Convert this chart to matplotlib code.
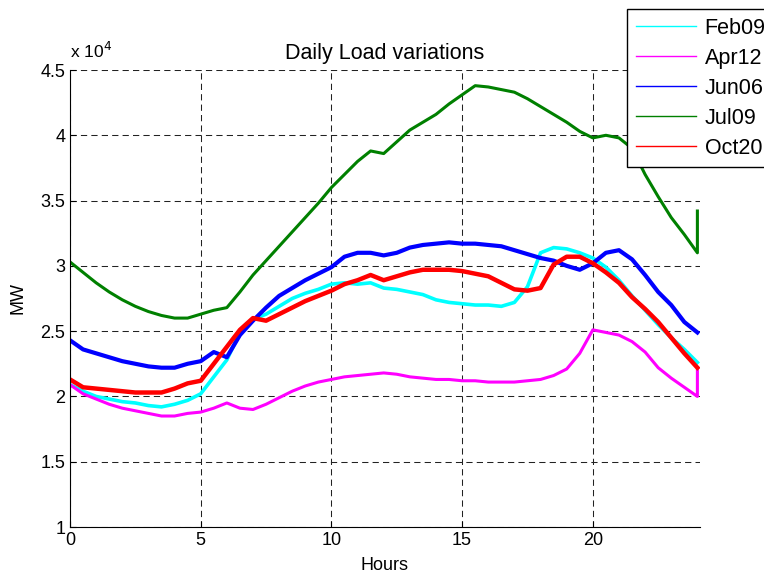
import numpy as np
import matplotlib
matplotlib.use("Agg")
import matplotlib.pyplot as plt

plt.rcParams['font.family'] = ['Liberation Sans', 'DejaVu Sans']

# half-hour samples, last entry repeated at 24 h for the end jump
hours = list(np.arange(0, 24.01, 0.5)) + [24.0]

# loads in units of 1e4 MW
feb09 = [2.09, 2.04, 2.00, 1.98, 1.96, 1.95, 1.93, 1.92, 1.94, 1.97,
         2.02, 2.15, 2.28, 2.49, 2.59, 2.63, 2.69, 2.75, 2.79, 2.82,
         2.86, 2.87, 2.86, 2.87, 2.83, 2.82, 2.80, 2.78, 2.74, 2.72,
         2.71, 2.70, 2.70, 2.69, 2.72, 2.84, 3.10, 3.14, 3.13, 3.10,
         3.06, 2.99, 2.89, 2.77, 2.66, 2.55, 2.45, 2.36, 2.26, 2.26]
apr12 = [2.09, 2.02, 1.98, 1.94, 1.91, 1.89, 1.87, 1.85, 1.85, 1.87,
         1.88, 1.91, 1.95, 1.91, 1.90, 1.94, 1.99, 2.04, 2.08, 2.11,
         2.13, 2.15, 2.16, 2.17, 2.18, 2.17, 2.15, 2.14, 2.13, 2.13,
         2.12, 2.12, 2.11, 2.11, 2.11, 2.12, 2.13, 2.16, 2.21, 2.33,
         2.51, 2.49, 2.47, 2.42, 2.34, 2.22, 2.14, 2.07, 2.00, 2.20]
jun06 = [2.43, 2.36, 2.33, 2.30, 2.27, 2.25, 2.23, 2.22, 2.22, 2.25,
         2.27, 2.34, 2.30, 2.47, 2.58, 2.68, 2.77, 2.83, 2.89, 2.94,
         2.99, 3.07, 3.10, 3.10, 3.08, 3.10, 3.14, 3.16, 3.17, 3.18,
         3.17, 3.17, 3.16, 3.15, 3.12, 3.09, 3.06, 3.04, 3.00, 2.97,
         3.02, 3.10, 3.12, 3.05, 2.93, 2.80, 2.70, 2.57, 2.49, 2.49]
jul09 = [3.03, 2.95, 2.87, 2.80, 2.74, 2.69, 2.65, 2.62, 2.60, 2.60,
         2.63, 2.66, 2.68, 2.80, 2.93, 3.04, 3.15, 3.26, 3.37, 3.48,
         3.60, 3.70, 3.80, 3.88, 3.86, 3.95, 4.04, 4.10, 4.16, 4.24,
         4.31, 4.38, 4.37, 4.35, 4.33, 4.28, 4.22, 4.16, 4.10, 4.03,
         3.98, 4.00, 3.98, 3.90, 3.70, 3.53, 3.37, 3.24, 3.10, 3.42]
oct20 = [2.13, 2.07, 2.06, 2.05, 2.04, 2.03, 2.03, 2.03, 2.06, 2.10,
         2.12, 2.25, 2.38, 2.51, 2.60, 2.58, 2.63, 2.68, 2.73, 2.77,
         2.81, 2.86, 2.89, 2.93, 2.89, 2.92, 2.95, 2.97, 2.97, 2.97,
         2.96, 2.94, 2.92, 2.87, 2.82, 2.81, 2.83, 3.01, 3.07, 3.07,
         3.02, 2.95, 2.87, 2.76, 2.67, 2.57, 2.45, 2.33, 2.22, 2.22]

labels = ['Feb09', 'Apr12', 'Jun06', 'Jul09', 'Oct20']
colors = ['#00ffff', '#ff00ff', '#0000ff', '#008000', '#ff0000']
widths = [2.6, 2.2, 3.0, 2.2, 3.2]

fig = plt.figure(figsize=(7.64, 5.75), dpi=100)
ax = fig.add_axes([70 / 764, 48 / 575, 630 / 764, 457 / 575])

for y, c, w in zip([feb09, apr12, jun06, jul09, oct20], colors, widths):
    ax.plot(hours, y, color=c, lw=w, solid_joinstyle='round')

ax.set_xlim(0, 24.1)
ax.set_ylim(1, 4.5)
ax.set_xticks([0, 5, 10, 15, 20])
ax.set_yticks([1, 1.5, 2, 2.5, 3, 3.5, 4, 4.5])
ax.set_yticklabels(['1', '1.5', '2', '2.5', '3', '3.5', '4', '4.5'])
ax.grid(True, color='#222222', linestyle=(0, (6, 4)), lw=0.75)
ax.spines['top'].set_visible(False)
ax.spines['right'].set_visible(False)
ax.tick_params(direction='in', labelsize=13, length=4)

ax.set_title('Daily Load variations', fontsize=15.5, pad=8)
ax.set_xlabel('Hours', fontsize=13, labelpad=6)
ax.set_ylabel('MW', fontsize=13, labelpad=10)
ax.text(0, 1.02, r'x 10$^{4}$', transform=ax.transAxes, fontsize=12.5,
        ha='left', va='bottom')

# legend handles drawn thin, as in the original
handles = [plt.Line2D([], [], color=c, lw=1) for c in colors]
leg = fig.legend(handles, labels, loc='upper left',
                 bbox_to_anchor=(627 / 764, 1 - 9 / 575), borderaxespad=0,
                 fancybox=False, edgecolor='k', framealpha=1, fontsize=15.5,
                 handlelength=2.8, handletextpad=0.4, labelspacing=0.42,
                 borderpad=0.4)
leg.get_frame().set_linewidth(1.0)

plt.savefig('out.png', dpi=100)
